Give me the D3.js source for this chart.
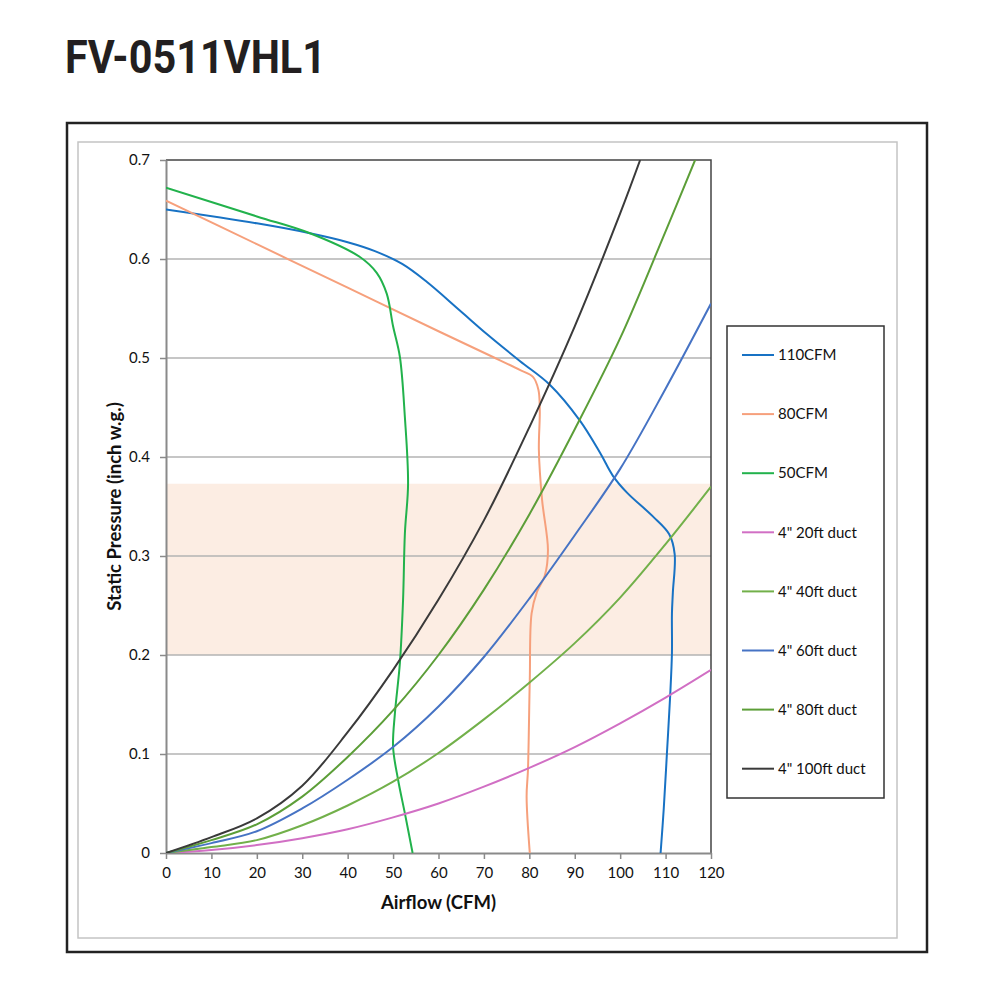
<!DOCTYPE html>
<html>
<head>
<meta charset="utf-8">
<script src="https://cdn.jsdelivr.net/npm/d3@7"></script>
<style>
  body { margin: 0; background: #fff; }
  svg { display: block; }
</style>
</head>
<body>
<div id="chart"></div>
<script>
// values (CFM, inch w.g.)
const xTicks = [0, 10, 20, 30, 40, 50, 60, 70, 80, 90, 100, 110, 120];
const yTicks = [0, 0.1, 0.2, 0.3, 0.4, 0.5, 0.6, 0.7];
const band = [0.2, 0.373];

const fan110 = [
  [0, 0.65], [20, 0.636], [31.7, 0.626], [40, 0.617], [46, 0.608],
  [52, 0.595], [57.4, 0.577], [64.7, 0.548], [70.7, 0.524], [77.9, 0.497],
  [84.5, 0.473], [91.1, 0.437], [95.6, 0.404], [98.4, 0.381], [101.5, 0.364],
  [107.2, 0.34], [110.8, 0.322], [112, 0.302], [111.6, 0.263], [111.4, 0.242],
  [111.4, 0.202], [111, 0.158], [110.3, 0.101], [109.6, 0.045], [108.9, 0]
];
const fan80 = [
  [0, 0.659], [20, 0.615], [40, 0.571], [60, 0.527], [72, 0.501],
  [77.9, 0.488], [80.8, 0.481], [82, 0.468], [82.3, 0.447], [82.1, 0.407],
  [82.8, 0.357], [84.1, 0.306], [83.4, 0.28], [81.7, 0.264], [80.5, 0.242],
  [80.1, 0.175], [79.7, 0.084], [79.4, 0.057], [80.1, 0]
];
const fan50 = [
  [0, 0.672], [20, 0.643], [31.7, 0.626], [42.7, 0.602], [46.4, 0.586],
  [48.6, 0.565], [50, 0.532], [51.5, 0.501], [52.6, 0.44], [53.3, 0.373],
  [52.6, 0.323], [52.2, 0.256], [51.5, 0.192], [50.4, 0.141], [50, 0.107],
  [51.1, 0.074], [52.6, 0.04], [54.3, 0]
];

const ductX = [0, 10, 20, 30, 40, 50, 60, 70, 80, 90, 100, 110, 120];
const duct20 = [0, 0.003, 0.008, 0.015, 0.024, 0.036, 0.05, 0.067, 0.086, 0.107, 0.131, 0.157, 0.185];
const duct40 = [0, 0.006, 0.013, 0.028, 0.048, 0.072, 0.101, 0.135, 0.172, 0.212, 0.258, 0.312, 0.37];
const duct60 = [0, 0.01, 0.022, 0.045, 0.074, 0.107, 0.148, 0.198, 0.257, 0.321, 0.388, 0.469, 0.555];
const duct80x = [0, 10, 20, 30, 40, 50, 60, 70, 80, 90, 100, 110, 116.5];
const duct80 = [0, 0.013, 0.029, 0.057, 0.097, 0.144, 0.2, 0.266, 0.342, 0.428, 0.52, 0.628, 0.7];
const duct100x = [0, 10, 20, 30, 40, 50, 60, 70, 80, 90, 100, 104.4];
const duct100 = [0, 0.016, 0.035, 0.068, 0.122, 0.185, 0.256, 0.336, 0.43, 0.532, 0.646, 0.7];

const seriesNames = ['110CFM', '80CFM', '50CFM', '4" 20ft duct', '4" 40ft duct', '4" 60ft duct', '4" 80ft duct', '4" 100ft duct'];
const seriesColors = ['#1872c4', '#f6a07c', '#22b24c', '#d16fc4', '#72b04a', '#4673c4', '#5c9e38', '#3a3a3a'];

const zip = (xs, ys) => xs.map((x, i) => [x, ys[i]]);
const series = [
  fan110, fan80, fan50,
  zip(ductX, duct20), zip(ductX, duct40), zip(ductX, duct60),
  zip(duct80x, duct80), zip(duct100x, duct100)
];

const width = 1000;
const height = 1000;
const margin = { top: 160, right: 289, bottom: 147, left: 166 };
const font = 'Lato, "Open Sans", sans-serif';

const x = d3.scaleLinear().domain([0, 120]).range([margin.left, width - margin.right]);
const y = d3.scaleLinear().domain([0, 0.7]).range([height - margin.bottom, margin.top]);

const svg = d3.select('#chart').append('svg')
  .attr('width', width)
  .attr('height', height)
  .attr('font-family', font);

// title
svg.append('text')
  .attr('x', 65)
  .attr('y', 73)
  .attr('font-family', 'Roboto, "DejaVu Sans", sans-serif')
  .attr('font-weight', 700)
  .attr('font-size', 46)
  .attr('fill', '#231f20')
  .attr('textLength', 261)
  .attr('lengthAdjust', 'spacingAndGlyphs')
  .text('FV-0511VHL1');

// frames
svg.append('rect')
  .attr('x', 67).attr('y', 123).attr('width', 860).attr('height', 829)
  .attr('fill', 'none').attr('stroke', '#222').attr('stroke-width', 2.5);
svg.append('rect')
  .attr('x', 78).attr('y', 142).attr('width', 819).attr('height', 796)
  .attr('fill', 'none').attr('stroke', '#c4c4c4').attr('stroke-width', 1.5);

// shaded band
svg.append('rect')
  .attr('x', x(0))
  .attr('y', y(band[1]))
  .attr('width', x(120) - x(0))
  .attr('height', y(band[0]) - y(band[1]))
  .attr('fill', '#fcede3');

// gridlines
svg.append('g')
  .selectAll('line')
  .data(yTicks.filter((d) => d > 0 && d < 0.7))
  .join('line')
  .attr('x1', x(0)).attr('x2', x(120))
  .attr('y1', (d) => y(d)).attr('y2', (d) => y(d))
  .attr('stroke', '#b3b3b3')
  .attr('stroke-width', 1.5);

// top / right border
svg.append('path')
  .attr('d', `M${x(0)},${y(0.7)}H${x(120)}V${y(0)}`)
  .attr('fill', 'none')
  .attr('stroke', '#444')
  .attr('stroke-width', 1.5);

// axes
const xAxis = svg.append('g')
  .attr('transform', `translate(0,${y(0)})`)
  .call(d3.axisBottom(x).tickValues(xTicks).tickSize(6).tickPadding(8).tickSizeOuter(0));
const yAxis = svg.append('g')
  .attr('transform', `translate(${x(0)},0)`)
  .call(d3.axisLeft(y).tickValues(yTicks).tickFormat((d) => d === 0 ? '0' : d3.format('.1f')(d)).tickSize(6).tickPadding(10).tickSizeOuter(0));

[xAxis, yAxis].forEach((g) => {
  g.select('.domain').attr('stroke', '#8a8a8a').attr('stroke-width', 2);
  g.selectAll('.tick line').attr('stroke', '#8a8a8a').attr('stroke-width', 1.5);
  g.selectAll('.tick text')
    .attr('font-family', font)
    .attr('font-size', 15)
    .attr('fill', '#111');
});

// axis titles
svg.append('text')
  .attr('x', (x(0) + x(120)) / 2)
  .attr('y', 909)
  .attr('text-anchor', 'middle')
  .attr('font-weight', 700)
  .attr('font-size', 18.5)
  .attr('fill', '#111')
  .text('Airflow (CFM)');
svg.append('text')
  .attr('transform', `translate(121,${(y(0) + y(0.7)) / 2}) rotate(-90)`)
  .attr('text-anchor', 'middle')
  .attr('font-weight', 700)
  .attr('font-size', 18.5)
  .attr('fill', '#111')
  .text('Static Pressure (inch w.g.)');

// curves
const line = d3.line()
  .x((d) => x(d[0]))
  .y((d) => y(d[1]))
  .curve(d3.curveCatmullRom.alpha(0.5));

svg.append('defs').append('clipPath').attr('id', 'plot-clip')
  .append('rect')
  .attr('x', x(0)).attr('y', y(0.7))
  .attr('width', x(120) - x(0)).attr('height', y(0) - y(0.7));

svg.append('g')
  .attr('clip-path', 'url(#plot-clip)')
  .selectAll('path')
  .data(series)
  .join('path')
  .attr('d', line)
  .attr('fill', 'none')
  .attr('stroke', (d, i) => seriesColors[i])
  .attr('stroke-width', 2);

// legend
const legend = svg.append('g');
legend.append('rect')
  .attr('x', 727).attr('y', 326).attr('width', 157).attr('height', 472)
  .attr('fill', '#fff').attr('stroke', '#333').attr('stroke-width', 1.5);

const item = legend.selectAll('g.item')
  .data(seriesNames)
  .join('g')
  .attr('class', 'item')
  .attr('transform', (d, i) => `translate(742,${355 + i * 59.1})`);
item.append('line')
  .attr('x1', 0).attr('x2', 32)
  .attr('stroke', (d, i) => seriesColors[i])
  .attr('stroke-width', 2);
item.append('text')
  .attr('x', 36)
  .attr('dy', '0.35em')
  .attr('font-size', 15)
  .attr('fill', '#111')
  .text((d) => d);
</script>
</body>
</html>
